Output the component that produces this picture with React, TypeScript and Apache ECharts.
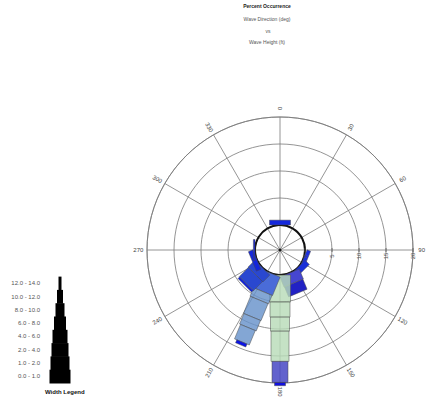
import React, { useEffect, useRef } from "react";
import * as echarts from "echarts";

// ---------------- data ----------------
const DIRECTIONS = [0, 22.5, 45, 67.5, 90, 112.5, 135, 157.5, 180, 202.5, 225, 247.5, 270, 292.5, 315, 337.5];
const HEIGHT_CLASSES = ["0.0 - 1.0", "1.0 - 2.0", "2.0 - 4.0", "4.0 - 6.0", "6.0 - 8.0", "8.0 - 10.0", "10.0 - 12.0", "12.0 - 14.0"];
// percent occurrence per direction for each wave-height class
const PCT_H0_1 = [0.9, 0, 0, 0, 0, 0.7, 1.1, 2.0, 5.0, 3.7, 1.8, 0.9, 0.3, 0, 0, 0];
const PCT_H1_2 = [0, 0, 0, 0, 0, 0, 0, 2.0, 2.8, 1.7, 2.4, 0, 0, 0, 0, 0];
const PCT_H2_4 = [0, 0, 0, 0, 0, 0, 0, 0, 2.6, 3.4, 0.4, 0, 0, 0, 0, 0];
const PCT_H4_6 = [0, 0, 0, 0, 0, 0, 0, 0, 5.6, 2.1, 0, 0, 0, 0, 0, 0];
const PCT_H6_8 = [0, 0, 0, 0, 0, 0, 0, 0, 3.9, 2.9, 0, 0, 0, 0, 0, 0];
const PCT_H8_10 = [0, 0, 0, 0, 0, 0, 0, 0, 0.6, 0.6, 0, 0, 0, 0, 0, 0];
const PCT_H10_12 = [0, 0, 0, 0, 0, 0, 0, 0, 0, 0, 0, 0, 0, 0, 0, 0];
const PCT_H12_14 = [0, 0, 0, 0, 0, 0, 0, 0, 0, 0, 0, 0, 0, 0, 0, 0];
const CLASS_VALUES = [PCT_H0_1, PCT_H1_2, PCT_H2_4, PCT_H4_6, PCT_H6_8, PCT_H8_10, PCT_H10_12, PCT_H12_14];

const ANGLE_LABELS = [0, 30, 60, 90, 120, 150, 180, 210, 240, 270, 300, 330];
const RADIUS_TICKS = [0, 5, 10, 15, 20];

// ---------------- styles ----------------
const GREEN = "rgba(184,220,184,0.82)";
const LIGHT_BLUE = "rgba(104,146,202,0.82)";
const SLATE = "rgba(70,70,196,0.85)";
const BAR_COLORS: Record<string, string[]> = {
  "0": ["#1428dc"],
  "112.5": ["#1a2ee0"],
  "135": ["#1a30d8"],
  "157.5": ["#4646d0", "#2222c4"],
  "180": [GREEN, GREEN, GREEN, GREEN, SLATE, "#1010e0"],
  "202.5": ["#4a6cd8", LIGHT_BLUE, LIGHT_BLUE, LIGHT_BLUE, LIGHT_BLUE, "#0a14e6"],
  "225": ["#2a48d0", "#2a48d0", "#0c1ee0"],
  "247.5": ["#1426dc"],
  "270": ["#1426dc"],
};
const BAR_WIDTHS = [21, 20, 19, 18, 16, 11, 8, 5];
const LEGEND_WIDTHS = [21, 19, 17, 15, 12, 9, 6, 3];
const FONT = '"Liberation Sans", Arial, sans-serif';
const CENTER = [280, 250];
const HOLE = 25;
const OUTER = 133;
const LABEL_R = 21.6;
const RADIUS_LABEL_ANGLE = 90;
const GRID = "#7a7a7a";

type Seg = { r0: number; r1: number; angle: number; cls: number; color: string };
function buildSegments(): Seg[] {
  const segs: Seg[] = [];
  DIRECTIONS.forEach((d, di) => {
    let acc = 0;
    CLASS_VALUES.forEach((vals, ci) => {
      const v = vals[di];
      if (v > 0) {
        const colors = BAR_COLORS[String(d)] || [];
        segs.push({ r0: acc, r1: acc + v, angle: d, cls: ci, color: colors[ci] || "#1428dc" });
        acc += v;
      }
    });
  });
  return segs;
}

export default function App() {
  const ref = useRef<HTMLDivElement>(null);
  useEffect(() => {
    if (!ref.current) return;
    const chart = echarts.init(ref.current, undefined, { renderer: "svg" });
    const segs = buildSegments();
    const legendBase = 383;
    const rowH = 13.3;
    const legendCx = 60;
    const option: any = {
      animation: false,
      backgroundColor: "#ffffff",
      polar: [
        { center: CENTER, radius: [HOLE, OUTER] },
        { center: CENTER, radius: [0, HOLE] },
      ],
      angleAxis: [
        {
          polarIndex: 0, type: "value", min: 0, max: 360, interval: 30, startAngle: 90, clockwise: true,
          axisLine: { lineStyle: { color: GRID, width: 0.8 } },
          axisTick: { show: false }, axisLabel: { show: false },
          splitLine: { show: true, lineStyle: { color: GRID, width: 0.8 } },
        },
        {
          polarIndex: 1, type: "value", min: 0, max: 360, interval: 30, startAngle: 90, clockwise: true,
          axisLine: { lineStyle: { color: "#111", width: 2 } },
          axisTick: { show: false }, axisLabel: { show: false },
          splitLine: { show: true, lineStyle: { color: GRID, width: 0.8 } },
        },
      ],
      radiusAxis: [
        {
          polarIndex: 0, type: "value", min: 0, max: 20, interval: 5,
          axisLine: { show: false }, axisTick: { show: false }, axisLabel: { show: false },
          splitLine: { show: true, lineStyle: { color: GRID, width: 0.8 } },
        },
        { polarIndex: 1, type: "value", min: 0, max: 1, show: false },
      ],
      series: [
        {
          type: "custom",
          coordinateSystem: "polar",
          polarIndex: 0,
          clip: false,
          encode: { radius: [0, 1], angle: 2 },
          data: segs.map((s) => [s.r0, s.r1, s.angle]),
          renderItem: (params: any, api: any) => {
            const s = segs[params.dataIndex];
            const p0 = api.coord([s.r0, s.angle]);
            const p1 = api.coord([s.r1, s.angle]);
            const dx = p1[0] - p0[0];
            const dy = p1[1] - p0[1];
            const len = Math.hypot(dx, dy) || 1;
            const nx = -dy / len;
            const ny = dx / len;
            const h = BAR_WIDTHS[s.cls] / 2;
            return {
              type: "polygon",
              shape: {
                points: [
                  [p0[0] + nx * h, p0[1] + ny * h],
                  [p1[0] + nx * h, p1[1] + ny * h],
                  [p1[0] - nx * h, p1[1] - ny * h],
                  [p0[0] - nx * h, p0[1] - ny * h],
                ],
              },
              style: { fill: s.color, stroke: "#4a4a4a", lineWidth: 0.5 },
            };
          },
        },
        {
          type: "custom",
          coordinateSystem: "polar",
          polarIndex: 0,
          clip: false,
          encode: { radius: 0, angle: 1 },
          data: ANGLE_LABELS.map((a) => [LABEL_R, a]),
          renderItem: (params: any, api: any) => {
            const a = ANGLE_LABELS[params.dataIndex];
            const p = api.coord([LABEL_R, a]);
            const rotDeg = a <= 180 ? 90 - a : 270 - a;
            return {
              type: "text",
              x: p[0],
              y: p[1],
              rotation: (rotDeg * Math.PI) / 180,
              style: {
                text: String(a), fill: "#444", font: `6px ${FONT}`,
                align: "center", verticalAlign: "middle",
                textAlign: "center", textVerticalAlign: "middle",
              },
            };
          },
        },
        {
          type: "custom",
          coordinateSystem: "polar",
          polarIndex: 0,
          clip: false,
          encode: { radius: 0, angle: 1 },
          data: RADIUS_TICKS.map((v) => [v, RADIUS_LABEL_ANGLE]),
          renderItem: (params: any, api: any) => {
            const v = RADIUS_TICKS[params.dataIndex];
            const p = api.coord([v, RADIUS_LABEL_ANGLE]);
            return {
              type: "group",
              children: [
                { type: "line", shape: { x1: p[0], y1: p[1] - 2, x2: p[0], y2: p[1] + 2 }, style: { stroke: "#555", lineWidth: 0.8 } },
                {
                  type: "text", x: p[0], y: p[1] + 6, rotation: Math.PI / 2,
                  style: {
                    text: String(v), fill: "#555", font: `6px ${FONT}`,
                    align: "center", verticalAlign: "middle", textAlign: "center", textVerticalAlign: "middle",
                  },
                },
              ],
            };
          },
        },
        {
          type: "scatter",
          coordinateSystem: "polar",
          polarIndex: 1,
          symbolSize: 3,
          itemStyle: { color: "#000" },
          data: [[0, 0]],
        },
      ],
      graphic: [
        ...HEIGHT_CLASSES.map((c, i) => ({
          type: "rect",
          shape: { x: legendCx - LEGEND_WIDTHS[i] / 2, y: legendBase - (i + 1) * rowH, width: LEGEND_WIDTHS[i], height: rowH + 0.5 },
          style: { fill: "#000" },
        })),
        ...HEIGHT_CLASSES.map((c, i) => ({
          type: "text",
          x: 40,
          y: legendBase - (i + 0.5) * rowH,
          style: { text: c, fill: "#555", font: `6px ${FONT}`, textAlign: "right", textVerticalAlign: "middle", align: "right", verticalAlign: "middle" },
        })),
        {
          type: "text", x: 45, y: 392,
          style: { text: "Width Legend", fill: "#111", font: `bold 6px ${FONT}`, textAlign: "left", textVerticalAlign: "middle", align: "left", verticalAlign: "middle" },
        },
        {
          type: "text", x: 267, y: 6,
          style: { text: "Percent Occurrence", fill: "#222", font: `bold 5px ${FONT}`, textAlign: "center", textVerticalAlign: "middle", align: "center", verticalAlign: "middle" },
        },
        {
          type: "text", x: 267, y: 19,
          style: { text: "Wave Direction (deg)", fill: "#555", font: `5px ${FONT}`, textAlign: "center", textVerticalAlign: "middle", align: "center", verticalAlign: "middle" },
        },
        {
          type: "text", x: 268, y: 31,
          style: { text: "vs", fill: "#555", font: `5px ${FONT}`, textAlign: "center", textVerticalAlign: "middle", align: "center", verticalAlign: "middle" },
        },
        {
          type: "text", x: 267, y: 42,
          style: { text: "Wave Height (ft)", fill: "#555", font: `5px ${FONT}`, textAlign: "center", textVerticalAlign: "middle", align: "center", verticalAlign: "middle" },
        },
      ],
    };
    chart.setOption(option);
    return () => chart.dispose();
  }, []);
  return <div ref={ref} style={{ position: "absolute", left: 0, top: 0, width: 432, height: 398 }} />;
}
